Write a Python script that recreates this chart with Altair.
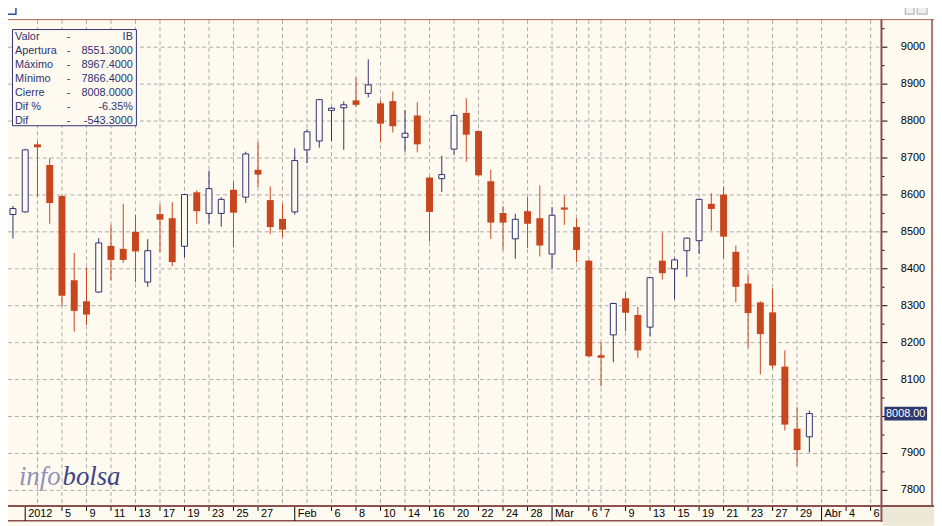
import altair as alt
import pandas as pd

# ---------------- data ----------------
dates = pd.bdate_range("2011-12-30", "2012-03-30").strftime("%Y-%m-%d").tolist()

opens = [8547, 8554, 8737, 8681, 8597, 8369, 8312, 8337, 8462, 8454,
         8500, 8364, 8548, 8537, 8461, 8607, 8550, 8550, 8614, 8594,
         8668, 8586, 8535, 8554, 8722, 8746, 8829, 8836, 8856, 8875,
         8848, 8854, 8756, 8815, 8647, 8644, 8724, 8822, 8773, 8637,
         8551, 8481, 8556, 8537, 8440, 8566, 8513, 8422, 8166, 8221,
         8320, 8275, 8242, 8422, 8400, 8449, 8476, 8576, 8601, 8446,
         8360, 8309, 8282, 8135, 7967, 7945]
highs = [8570, 8725, 8744, 8699, 8599, 8443, 8403, 8483, 8519, 8576,
         8546, 8480, 8574, 8580, 8603, 8612, 8666, 8594, 8637, 8717,
         8744, 8623, 8576, 8726, 8778, 8860, 8838, 8853, 8918, 8967,
         8856, 8880, 8830, 8851, 8650, 8706, 8818, 8862, 8775, 8668,
         8570, 8549, 8594, 8626, 8567, 8599, 8537, 8424, 8201, 8308,
         8337, 8297, 8378, 8498, 8430, 8485, 8590, 8604, 8623, 8463,
         8385, 8312, 8347, 8179, 8025, 8016]
lows = [8482, 8552, 8595, 8522, 8299, 8230, 8248, 8335, 8369, 8416,
        8363, 8351, 8445, 8407, 8431, 8522, 8522, 8514, 8458, 8578,
        8621, 8494, 8485, 8547, 8686, 8728, 8746, 8722, 8838, 8864,
        8742, 8769, 8717, 8715, 8474, 8608, 8710, 8690, 8650, 8481,
        8451, 8427, 8456, 8433, 8401, 8519, 8418, 8160, 8081, 8147,
        8230, 8159, 8217, 8371, 8317, 8378, 8440, 8503, 8429, 8309,
        8186, 8114, 8130, 7962, 7866, 7903]
closes = [8563, 8722, 8729, 8578, 8327, 8286, 8276, 8470, 8424, 8424,
          8447, 8449, 8533, 8418, 8601, 8556, 8617, 8588, 8552, 8711,
          8655, 8513, 8506, 8693, 8771, 8858, 8835, 8844, 8844, 8898,
          8793, 8786, 8767, 8737, 8554, 8655, 8815, 8763, 8653, 8525,
          8525, 8534, 8522, 8463, 8545, 8560, 8451, 8163, 8159, 8306,
          8281, 8179, 8376, 8388, 8424, 8483, 8588, 8562, 8487, 8351,
          8280, 8223, 8138, 7978, 7909, 8008]

# x-axis labels (position = trading-day index)
tick_pos = [1, 4, 6, 8, 10, 12, 14, 16, 18, 20, 23, 26, 28, 30, 32, 34, 36,
            38, 40, 42, 44, 47, 48, 50, 52, 54, 56, 58, 60, 62, 64, 66, 68, 70]
tick_text = ["2012", "5", "9", "11", "13", "17", "19", "23", "25", "27",
             "Feb", "6", "8", "10", "14", "16", "20", "22", "24", "28",
             "Mar", "6", "7", "9", "13", "15", "19", "21", "23", "27", "29",
             "Abr", "4", "6"]
tick_month = ["2012", "Feb", "Mar", "Abr"]
# vertical grid every second session
grid_pos = [2, 4, 6, 8, 10, 12, 14, 16, 18, 20, 22, 24, 26, 28, 30, 32, 34, 36,
            38, 40, 42, 44, 46, 47, 48, 50, 52, 54, 56, 58, 60, 62, 64, 66, 68, 70]

y_ticks = [7800, 7900, 8000, 8100, 8200, 8300, 8400, 8500, 8600, 8700, 8800, 8900, 9000]
y_minor = [7850, 7950, 8050, 8150, 8250, 8350, 8450, 8550, 8650, 8750, 8850, 8950, 9050]

info_labels = ["Valor", "Apertura", "Máximo", "Mínimo", "Cierre", "Dif %", "Dif"]
info_values = ["IB", "8551.3000", "8967.4000", "7866.4000", "8008.0000", "-6.35%", "-543.3000"]
last_value = 8008.0
last_label = "8008.00"

# ---------------- styling ----------------
CREAM = "#FFFAF0"
RED = "#C8461E"
NAVY = "#2E3270"
GRID = "#ABABAB"
FRAME = "#8E4F4F"
TOPLINE = "#B0604E"
FONT = "Liberation Sans"

W, H = 880, 489
xs = alt.Scale(domain=[0, 70.4], nice=False, zero=False)
ys = alt.Scale(domain=[7760.5, 9073.3], nice=False, zero=False)

df = pd.DataFrame({"idx": list(range(len(dates))), "date": dates, "open": opens,
                   "high": highs, "low": lows, "close": closes})
df["up"] = df["close"] >= df["open"]
up = df[df["up"]]
dn = df[~df["up"]]

ticks_df = pd.DataFrame({"pos": tick_pos, "text": tick_text})
ticks_df["month"] = ticks_df["text"].isin(tick_month)
yt_df = pd.DataFrame({"v": y_ticks})
one = pd.DataFrame({"k": [0]})


def X(f):
    return alt.X(f, type="quantitative", scale=xs, axis=None)


def Y(f):
    return alt.Y(f, type="quantitative", scale=ys, axis=None)


def box(x, x2, y, y2, **kw):
    return alt.Chart(one).mark_rect(**kw).encode(
        x=alt.value(x), x2=alt.value(x2), y=alt.value(y), y2=alt.value(y2))


def hline(x, x2, y, color, w=1):
    return alt.Chart(one).mark_rule(color=color, strokeWidth=w).encode(
        x=alt.value(x), x2=alt.value(x2), y=alt.value(y))


def vline(x, y, y2, color, w=1):
    return alt.Chart(one).mark_rule(color=color, strokeWidth=w).encode(
        x=alt.value(x), y=alt.value(y), y2=alt.value(y2))


# horizontal grid, right-axis ticks and labels (through the y scale)
hgrid = alt.Chart(yt_df).mark_rule(color=GRID, strokeDash=[4, 3], strokeWidth=1).encode(
    y=Y("v"), x=alt.value(0), x2=alt.value(W))
major = alt.Chart(yt_df).mark_rule(color="#000000", strokeWidth=1).encode(
    y=Y("v"), x=alt.value(881), x2=alt.value(887))
minor = alt.Chart(pd.DataFrame({"v": y_minor})).mark_rule(color="#000000", strokeWidth=1).encode(
    y=Y("v"), x=alt.value(881), x2=alt.value(884))
# the label hidden behind the last-value tag is not drawn
ylab = alt.Chart(yt_df).transform_filter(f"abs(datum.v - {last_value}) > 40").mark_text(
    align="right", baseline="middle", font=FONT, fontSize=11, color="#000000").encode(
    y=Y("v"), x=alt.value(925), text=alt.Text("v:Q", format="d"))

vgrid = alt.Chart(pd.DataFrame({"pos": grid_pos})).mark_rule(
    color=GRID, strokeDash=[4, 3], strokeWidth=1).encode(
    x=X("pos"), y=alt.value(0), y2=alt.value(H))

wick_up = alt.Chart(up).mark_rule(color=NAVY, strokeWidth=1).encode(x=X("idx"), y=Y("low"), y2="high")
wick_dn = alt.Chart(dn).mark_rule(color=RED, strokeWidth=1).encode(x=X("idx"), y=Y("low"), y2="high")
body_up = alt.Chart(up).mark_bar(size=6, fill=CREAM, stroke=NAVY, strokeWidth=1).encode(
    x=X("idx"), y=Y("open"), y2="close")
body_dn = alt.Chart(dn).mark_bar(size=7, color=RED).encode(x=X("idx"), y=Y("open"), y2="close")

# info box
info_box = box(4.5, 129.5, 9.5, 106.5, fill=CREAM, stroke=NAVY, strokeWidth=1)
info_txt = dict(font=FONT, fontSize=11, color=NAVY, lineBreak="\n", lineHeight=14, baseline="top")
info_l = alt.Chart(one).mark_text(align="left", **info_txt).encode(
    text=alt.value("\n".join(info_labels)), x=alt.value(7), y=alt.value(11.5))
info_d = alt.Chart(one).mark_text(align="center", **info_txt).encode(
    text=alt.value("\n".join(["-"] * len(info_labels))), x=alt.value(61), y=alt.value(11.5))
info_v = alt.Chart(one).mark_text(align="right", **info_txt).encode(
    text=alt.value("\n".join(info_values)), x=alt.value(126), y=alt.value(11.5))

# watermark
wm1 = alt.Chart(one).mark_text(align="left", baseline="alphabetic", font="Liberation Serif",
                               fontStyle="italic", fontSize=27, color="#8F92B8").encode(
    text=alt.value("info"), x=alt.value(11), y=alt.value(469))
wm2 = alt.Chart(one).mark_text(align="left", baseline="alphabetic", font="Liberation Serif",
                               fontStyle="italic", fontSize=27, color="#3B4582").encode(
    text=alt.value("bolsa"), x=alt.value(55), y=alt.value(469))

# frame / window decorations
title_bar = box(-10, 940, -12, -1, fill="#FFFFFF")
icon = box(-4, 8, -15, -6, fill="#FFFFFF", stroke="#2B4C9A", strokeWidth=1.5)
btn1 = box(905, 914, -14, -6, fill="#EFEFEF", stroke="#A8A8A8", strokeWidth=1)
btn2 = box(917, 927, -14, -6, fill="#EFEFEF", stroke="#A8A8A8", strokeWidth=1)
corner = box(882, 940, 490, 510, fill="#ECE9D8")
top_line = hline(-10, 940, -0.5, TOPLINE, 1)
right_line = vline(881, -1, 506, FRAME, 2)
right_border = vline(932, -1, 490, FRAME, 1.5)
strip_top = hline(-10, 940, 490, FRAME, 2)
strip_bot = hline(-10, 882, 505, FRAME, 1.5)

# x labels & ticks
xlab = alt.Chart(ticks_df).mark_text(align="left", baseline="middle", dx=3, font=FONT,
                                     fontSize=11, color="#000000").encode(
    x=X("pos"), y=alt.value(498), text="text:N")
xtick_d = alt.Chart(ticks_df[~ticks_df["month"]]).mark_rule(color="#000000").encode(
    x=X("pos"), y=alt.value(491), y2=alt.value(495))
xtick_m = alt.Chart(ticks_df[ticks_df["month"]]).mark_rule(color="#000000").encode(
    x=X("pos"), y=alt.value(491), y2=alt.value(505))

# last value tag
tag_df = pd.DataFrame({"v": [last_value], "t": [last_label]})
tag_rect = alt.Chart(tag_df).transform_calculate(lo="datum.v - 18.5", hi="datum.v + 18.5").mark_rect(
    color="#2D3A70").encode(y=Y("lo"), y2="hi", x=alt.value(884), x2=alt.value(927))
tag_txt = alt.Chart(tag_df).mark_text(align="center", baseline="middle", font=FONT, fontSize=11,
                                      color="#FFFFFF").encode(
    y=Y("v"), x=alt.value(905.5), text="t:N")

chart = alt.layer(
    corner, hgrid, vgrid, major, minor, ylab,
    wick_up, wick_dn, body_up, body_dn,
    wm1, wm2, info_box, info_l, info_d, info_v,
    title_bar, icon, btn1, btn2,
    top_line, right_line, right_border, strip_top, strip_bot,
    xtick_d, xtick_m, xlab, tag_rect, tag_txt,
).properties(
    width=W, height=H,
    autosize=alt.AutoSizeParams(type="none"),
    padding={"left": 0, "top": 10, "right": 54, "bottom": 19},
).configure(background=CREAM).configure_view(stroke=None, fill=CREAM)

chart.save("out.html", embed_options={"renderer": "svg", "actions": False})
